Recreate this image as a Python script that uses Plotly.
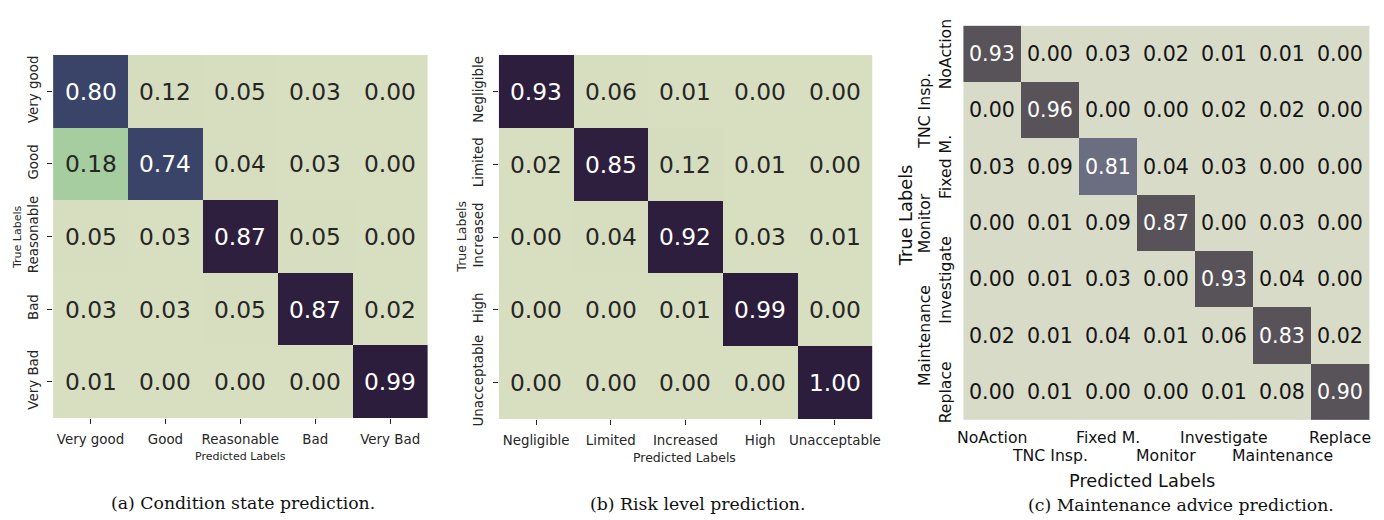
import plotly.graph_objects as go

# ---- data ----
cond_labels = ["Very good", "Good", "Reasonable", "Bad", "Very Bad"]
cond_matrix = [
    [0.80, 0.12, 0.05, 0.03, 0.00],
    [0.18, 0.74, 0.04, 0.03, 0.00],
    [0.05, 0.03, 0.87, 0.05, 0.00],
    [0.03, 0.03, 0.05, 0.87, 0.02],
    [0.01, 0.00, 0.00, 0.00, 0.99],
]

risk_labels = ["Negligible", "Limited", "Increased", "High", "Unacceptable"]
risk_matrix = [
    [0.93, 0.06, 0.01, 0.00, 0.00],
    [0.02, 0.85, 0.12, 0.01, 0.00],
    [0.00, 0.04, 0.92, 0.03, 0.01],
    [0.00, 0.00, 0.01, 0.99, 0.00],
    [0.00, 0.00, 0.00, 0.00, 1.00],
]

advice_labels = ["NoAction", "TNC Insp.", "Fixed M.", "Monitor",
                 "Investigate", "Maintenance", "Replace"]
advice_matrix = [
    [0.93, 0.00, 0.03, 0.02, 0.01, 0.01, 0.00],
    [0.00, 0.96, 0.00, 0.00, 0.02, 0.02, 0.00],
    [0.03, 0.09, 0.81, 0.04, 0.03, 0.00, 0.00],
    [0.00, 0.01, 0.09, 0.87, 0.00, 0.03, 0.00],
    [0.00, 0.01, 0.03, 0.00, 0.93, 0.04, 0.00],
    [0.02, 0.01, 0.04, 0.01, 0.06, 0.83, 0.02],
    [0.00, 0.01, 0.00, 0.00, 0.01, 0.08, 0.90],
]

captions = ["(a) Condition state prediction.",
            "(b) Risk level prediction.",
            "(c) Maintenance advice prediction."]

W, H = 1384, 520
# layout positions below are given on this grid (pixels from top-left)
GRID_W, GRID_H = 1374, 513
SANS = "DejaVu Sans"
SERIF = "DejaVu Serif"
INK = "#262626"


def px(x):
    return x / GRID_W


def py(y):
    return 1 - y / GRID_H


def label(**kw):
    """Centred text annotation."""
    base = dict(showarrow=False, xanchor="center", yanchor="middle")
    base.update(kw)
    return base


cube_scale = [
    [0.00, "#d8dfc1"], [0.12, "#d6ddbf"], [0.18, "#a5cd9f"],
    [0.50, "#5f8a8a"], [0.74, "#3a4469"], [0.80, "#394468"],
    [0.845, "#2e1f3e"], [1.00, "#2c1d3c"],
]
grey_scale = [
    [0.00, "#d9dbc9"], [0.10, "#d9dbc9"], [0.81, "#6b6d80"],
    [0.83, "#585259"], [1.00, "#585259"],
]

fig = go.Figure()

panels = [
    dict(labels=cond_labels, z=cond_matrix, scale=cube_scale, xa="x", ya="y"),
    dict(labels=risk_labels, z=risk_matrix, scale=cube_scale, xa="x2", ya="y2"),
    dict(labels=advice_labels, z=advice_matrix, scale=grey_scale, xa="x3", ya="y3"),
]

for p in panels:
    fig.add_trace(go.Heatmap(
        x=p["labels"], y=p["labels"], z=p["z"],
        colorscale=p["scale"], zmin=0, zmax=1, showscale=False,
        hoverinfo="skip", xaxis=p["xa"], yaxis=p["ya"],
    ))

annotations = []

# cell values
for i, p in enumerate(panels):
    size = 23.3 if i < 2 else 20.6
    dark_ink = INK if i < 2 else "#141414"
    for r, row_lab in enumerate(p["labels"]):
        for c, col_lab in enumerate(p["labels"]):
            v = p["z"][r][c]
            annotations.append(label(
                x=col_lab, y=row_lab, xref=p["xa"], yref=p["ya"],
                text=f"{v:.2f}",
                font=dict(family=SANS, size=size,
                          color="white" if v > 0.5 else dark_ink),
            ))

# axis titles for panels (a) and (b)
annotations += [
    label(x=px(240), y=py(456), xref="paper", yref="paper", text="Predicted Labels",
          font=dict(family=SANS, size=11, color=INK)),
    label(x=px(17), y=py(237), xref="paper", yref="paper", text="True Labels",
          textangle=-90, font=dict(family=SANS, size=11, color=INK)),
    label(x=px(684), y=py(457), xref="paper", yref="paper", text="Predicted Labels",
          font=dict(family=SANS, size=12.5, color=INK)),
    label(x=px(460), y=py(237), xref="paper", yref="paper", text="True Labels",
          textangle=-90, font=dict(family=SANS, size=12.5, color=INK)),
]

# staggered tick labels for panel (c)
for k, lab in enumerate(advice_labels):
    annotations.append(label(
        x=lab, xref="x3", y=py(437 if k % 2 == 0 else 455), yref="paper",
        text=lab, font=dict(family=SANS, size=15.7, color="#111111")))
    annotations.append(label(
        y=lab, yref="y3", x=px(944 if k % 2 == 0 else 923), xref="paper",
        text=lab, textangle=-90,
        font=dict(family=SANS, size=15.7, color="#111111")))

annotations += [
    label(x=px(1140), y=py(480), xref="paper", yref="paper", text="Predicted Labels",
          font=dict(family=SANS, size=17.8, color="#111111")),
    label(x=px(905), y=py(215), xref="paper", yref="paper", text="True Labels",
          textangle=-90, font=dict(family=SANS, size=17.8, color="#111111")),
]

# captions
for cx, cy, cap in zip([243, 697, 1179], [503, 504, 505], captions):
    annotations.append(label(
        x=px(cx), y=py(cy), xref="paper", yref="paper", text=cap,
        font=dict(family=SERIF, size=17.3, color="#111111")))

tick_axis = dict(
    showgrid=False, zeroline=False, showline=False, ticks="outside",
    ticklen=5, tickwidth=1.2, tickcolor=INK, ticklabelstandoff=4,
    tickfont=dict(family=SANS, size=13.4, color=INK),
)

fig.update_layout(
    width=W, height=H, margin=dict(l=0, r=0, t=0, b=0),
    paper_bgcolor="white", plot_bgcolor="white",
    xaxis=dict(domain=[px(53), px(427)], anchor="y", **tick_axis),
    yaxis=dict(domain=[py(418), py(55)], anchor="x", autorange="reversed",
               tickangle=-90, **tick_axis),
    xaxis2=dict(domain=[px(498), px(871)], anchor="y2", **tick_axis),
    yaxis2=dict(domain=[py(419), py(55)], anchor="x2", autorange="reversed",
                tickangle=-90, **tick_axis),
    xaxis3=dict(domain=[px(954), px(1371)], anchor="y3", showgrid=False,
                zeroline=False, showticklabels=False),
    yaxis3=dict(domain=[py(425), py(17)], anchor="x3", autorange="reversed",
                showgrid=False, zeroline=False, showticklabels=False),
    annotations=annotations,
)

fig.write_html("out.html")
